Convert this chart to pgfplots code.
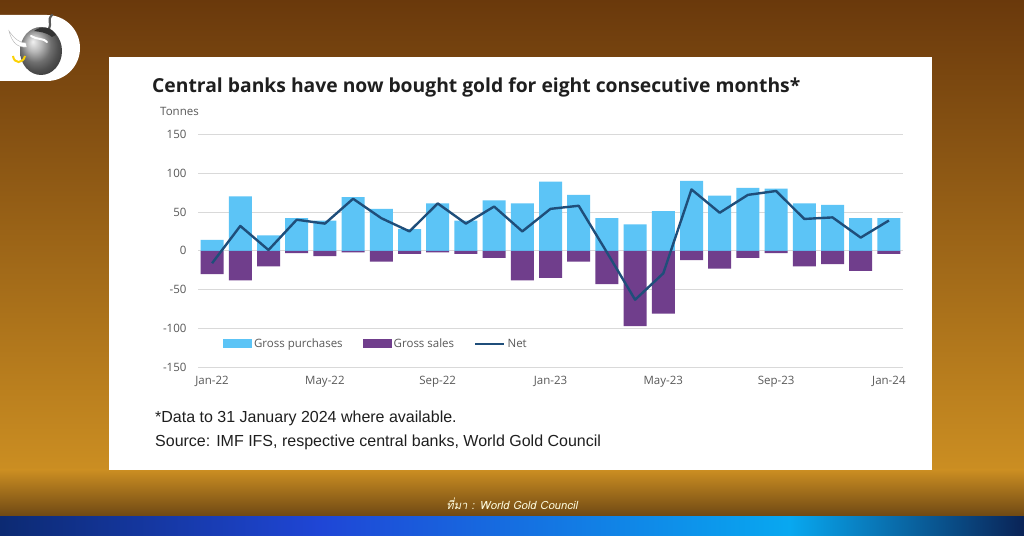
\documentclass[border=0pt]{standalone}
\usepackage{pgfplots}
\pgfplotsset{compat=1.18}
\usepackage{pgfplotstable}
\usepackage{fontspec}
\setmainfont{Open Sans}
\newfontfamily\notefont{Liberation Sans}
\newfontfamily\thaifont[Script=Thai,FakeSlant=0.2]{Loma}

\definecolor{bgTop}{HTML}{6A390C}
\definecolor{bgMid}{HTML}{96601A}
\definecolor{bgGold}{HTML}{CB8E22}
\definecolor{bgDark}{HTML}{6E4814}
\definecolor{navyA}{HTML}{0C2A72}
\definecolor{blueB}{HTML}{1F46D6}
\definecolor{cyanC}{HTML}{08A8F0}
\definecolor{navyD}{HTML}{0A2356}
\definecolor{purch}{HTML}{5CC4F6}
\definecolor{sales}{HTML}{703E8C}
\definecolor{netline}{HTML}{1F4E7A}
\definecolor{gridgray}{HTML}{D9D9D9}
\definecolor{labelgray}{HTML}{595959}

% Monthly central bank gold flows, tonnes (0 = Jan-22 ... 24 = Jan-24)
\pgfplotstableread{
x  p   s    n
0  14  -30  -16
1  70  -38  32
2  20  -20  1
3  42  -3   40
4  39  -7   35
5  69  -2   67
6  54  -14  42
7  28  -4   25
8  61  -2   61
9  39  -4   35
10 65  -9   57
11 61  -38  25
12 89  -35  54
13 72  -14  58
14 42  -43  -2
15 34  -97  -63
16 51  -81  -29
17 90  -12  79
18 71  -23  49
19 81  -9   72
20 80  -3   77
21 61  -20  41
22 59  -17  43
23 42  -26  17
24 42  -4   39
}\goldflows

\begin{document}
\begin{tikzpicture}[x=1pt,y=1pt]
\useasboundingbox (0,0) rectangle (1024,535);

% page background
\fill[top color=bgTop, middle color=bgMid, bottom color=bgGold] (0,65) rectangle (1024,535.5);
\fill[top color=bgGold, middle color=bgGold!85!black, bottom color=bgDark] (0,18.5) rectangle (1024,65.2);
\fill[left color=navyA, right color=blueB] (0,-0.5) rectangle (320,19);
\fill[left color=blueB, right color=cyanC] (319.5,-0.5) rectangle (790,19);
\fill[left color=cyanC, right color=navyD] (789.5,-0.5) rectangle (1024.5,19);

% logo badge
\fill[white] (-1,520) -- (47,520) arc[start angle=90,end angle=-90,radius=33] -- (-1,454) -- cycle;
\shade[ball color=gray!75] (41,484) ellipse [x radius=21, y radius=24];
\draw[gray!70!black, line width=2.2pt, line cap=round] (49,506) .. controls (52,512) and (47,515) .. (52,520);
\fill[gray!40!black] (34,504) .. controls (42,510) and (52,508) .. (56,500) -- (52,498) .. controls (46,503) and (40,503) .. cycle;
\draw[white, line width=2pt, line cap=round] (31,499) .. controls (37,495) and (44,497) .. (47,493);
\fill[white, draw=gray!60, line width=0.4pt] (9,504) .. controls (12,492) and (18,487) .. (27,488) -- (26,492) .. controls (19,492) and (14,497) .. cycle;
\draw[yellow!70!orange, line width=2pt] (13,479) .. controls (14,471) and (23,471) .. (25,479);

% chart card
\fill[white] (109,65) rectangle (932,478);

\node[anchor=base west, inner sep=0pt, text=black!88,
      font=\bfseries\fontsize{19.3}{22}\selectfont] at (152,442)
  {Central banks have now bought gold for eight consecutive months*};
\node[anchor=base west, inner sep=0pt, text=labelgray,
      font=\fontsize{11.5}{13}\selectfont] at (160,419) {Tonnes};

\begin{axis}[
  at={(198pt,167.7pt)}, anchor=south west,
  scale only axis, width=705pt, height=233pt,
  xmin=-0.5, xmax=24.5, ymin=-150, ymax=150,
  ytick={-150,-100,...,150},
  xtick={0,4,...,24},
  xticklabels={Jan-22,May-22,Sep-22,Jan-23,May-23,Sep-23,Jan-24},
  axis line style={draw=none},
  major tick length=0pt,
  ymajorgrids, grid style={color=gridgray, line width=0.9pt},
  /pgf/number format/assume math mode=true,
  tick label style={font=\fontsize{11.5}{13}\selectfont, text=labelgray},
  yticklabel style={xshift=-8pt},
  xticklabel style={yshift=-5pt},
  legend style={draw=none, fill=none, at={(rel axis cs:0.031,0.1)}, anchor=west,
    font=\fontsize{11.5}{13}\selectfont, text=labelgray,
    /tikz/every even column/.append style={column sep=18pt}},
  legend columns=3, legend cell align=left,
]
\addplot[ybar, bar width=23pt, bar shift=0pt, fill=purch, draw=none,
  legend image code/.code={\fill[purch] (0pt,-4.5pt) rectangle (29pt,4.5pt);}]
  table[x=x, y=p] {\goldflows};
\addlegendentry{Gross purchases}
\addplot[ybar, bar width=23pt, bar shift=0pt, fill=sales, draw=none,
  legend image code/.code={\fill[sales] (0pt,-4.5pt) rectangle (29pt,4.5pt);}]
  table[x=x, y=s] {\goldflows};
\addlegendentry{Gross sales}
\addplot[netline, line width=2.4pt, line join=round, mark=none,
  legend image code/.code={\draw[netline, line width=2.4pt] (0pt,0pt) -- (29pt,0pt);}]
  table[x=x, y=n] {\goldflows};
\addlegendentry{Net}
\end{axis}

\node[anchor=base west, inner sep=0pt, text=black!88,
      font=\notefont\fontsize{16}{19}\selectfont] at (155,112)
  {*Data to 31 January 2024 where available.};
\node[anchor=base west, inner sep=0pt, text=black!88,
      font=\notefont\fontsize{16}{19}\selectfont] at (155,88)
  {Source: IMF IFS, respective central banks, World Gold Council};

\node[anchor=base, inner sep=0pt, text=white!88!yellow,
      font=\thaifont\fontsize{11.3}{14}\selectfont] at (512,26)
  {ที่มา : World Gold Council};
\end{tikzpicture}
\end{document}
